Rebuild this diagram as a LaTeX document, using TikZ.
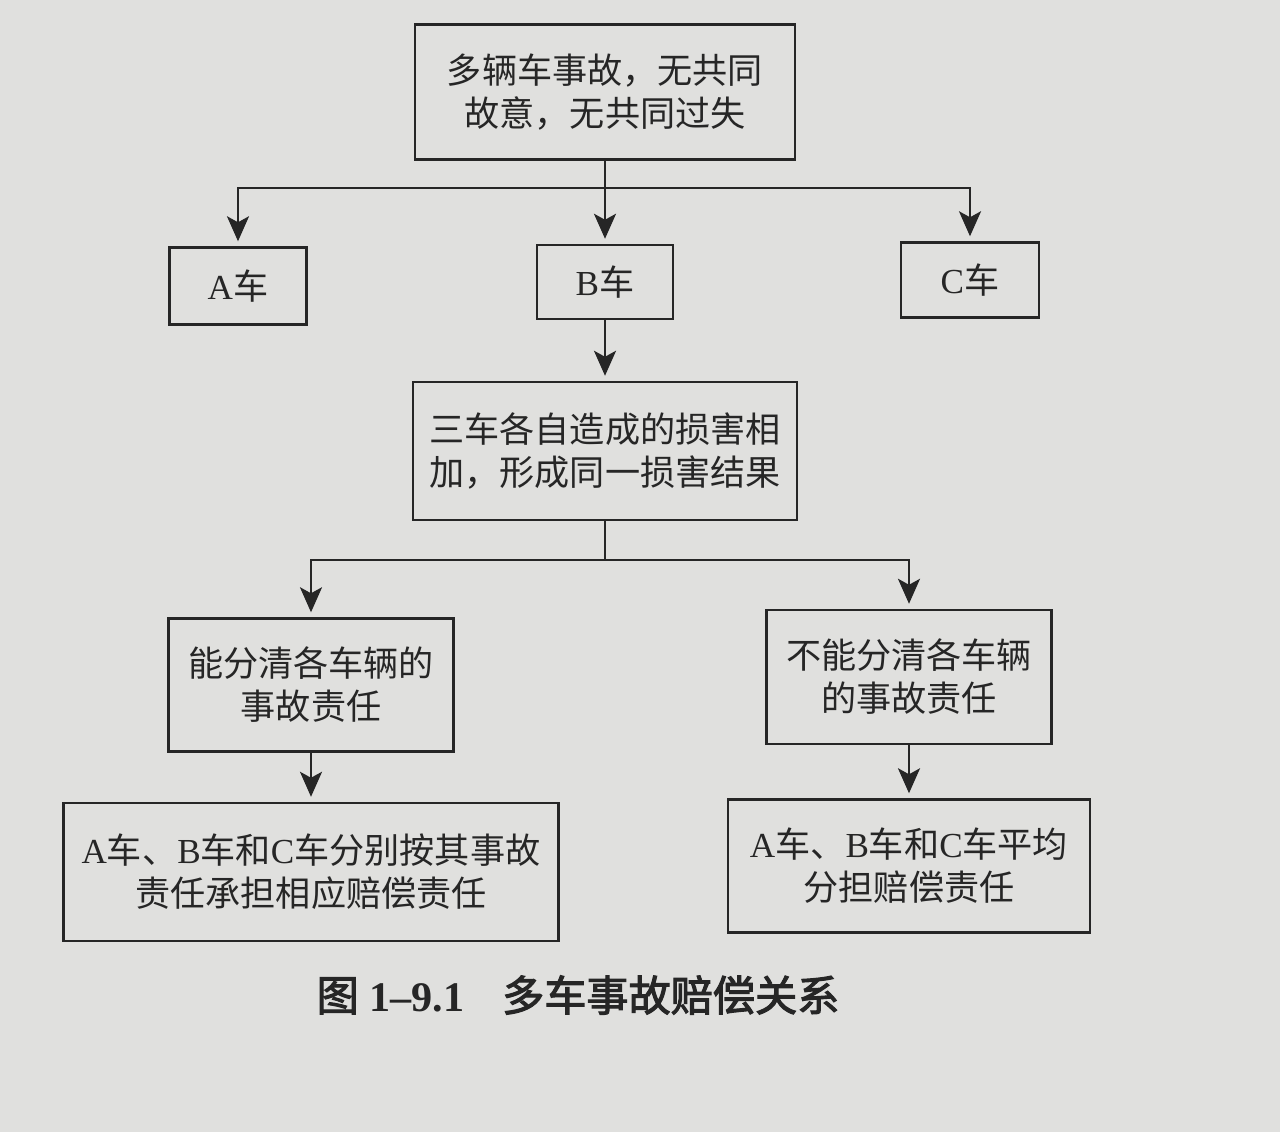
\documentclass[tikz,border=0pt]{standalone}
\usepackage{fontspec}
\setmainfont{Liberation Serif}
\newfontfamily\cjk{Noto Sans CJK SC}
\newfontfamily\cjkb[FakeBold=2.5]{Noto Sans CJK SC}
\usepackage{tikz}
\usetikzlibrary{arrows.meta, positioning, calc}

\definecolor{paper}{RGB}{224,224,222}
\definecolor{ink}{RGB}{38,38,38}
\newcommand\lat[1]{{\rmfamily #1}}

\tikzset{
  box/.style={draw=ink, line width=1.4pt, align=center, inner sep=0pt,
    font=\cjk\fontsize{20}{24.5}\selectfont, text=ink},
  link/.style={draw=ink, line width=1.4pt},
  arr/.style={link, -{Stealth[length=0.5cm, width=0.44cm, inset=0.12cm]}, shorten >=0.1cm},
}

\begin{document}
\begin{tikzpicture}[x=0.02cm, y=-0.02cm]
  \fill[paper] (0,0) rectangle (1280,1132);
  \useasboundingbox (0,0) rectangle (1280,1132);

  % top level
  \node[box, minimum width=7.6cm, minimum height=2.7cm] (accident) at (605,92)
    {多辆车事故，无共同\\故意，无共同过失};

  % the three cars
  \node[box, minimum width=2.74cm, minimum height=1.54cm] (carA) at (238,286) {\lat{A}车};
  \node[box, minimum width=2.72cm, minimum height=1.48cm] (carB) at (605,282) {\lat{B}车};
  \node[box, minimum width=2.76cm, minimum height=1.5cm] (carC) at (970,280) {\lat{C}车};

  \node[box, minimum width=7.68cm, minimum height=2.76cm] (damage) at (605,451)
    {三车各自造成的损害相\\加，形成同一损害结果};

  % two cases
  \node[box, minimum width=5.7cm, minimum height=2.66cm] (split) at (311,685)
    {能分清各车辆的\\事故责任};
  \node[box, minimum width=5.7cm, minimum height=2.68cm] (nosplit) at (909,677)
    {不能分清各车辆\\的事故责任};

  \node[box, minimum width=9.9cm, minimum height=2.76cm] (byshare) at (311,872)
    {\lat{A}车、\lat{B}车和\lat{C}车分别按其事故\\责任承担相应赔偿责任};
  \node[box, minimum width=7.24cm, minimum height=2.66cm] (equal) at (909,866)
    {\lat{A}车、\lat{B}车和\lat{C}车平均\\分担赔偿责任};

  % caption
  \node[font=\fontsize{24}{28}\selectfont, text=ink] (caption) at (578,995)
    {{\cjkb 图} {\bfseries 1–9.1}\hspace{0.9em}{\cjkb 多车事故赔偿关系}};

  % connectors
  \coordinate (bus1) at (605,188);
  \coordinate (bus2) at (605,560);
  \draw[link] (accident.south) -- (bus1);
  \draw[arr] (bus1) -| (carA.north);
  \draw[arr] (bus1) -- (carB.north);
  \draw[arr] (bus1) -| (carC.north);
  \draw[arr] (carB.south) -- (damage.north);
  \draw[link] (damage.south) -- (bus2);
  \draw[arr] (bus2) -| (split.north);
  \draw[arr] (bus2) -| (nosplit.north);
  \draw[arr] (split.south) -- (split.south |- byshare.north);
  \draw[arr] (nosplit.south) -- (nosplit.south |- equal.north);
\end{tikzpicture}
\end{document}
